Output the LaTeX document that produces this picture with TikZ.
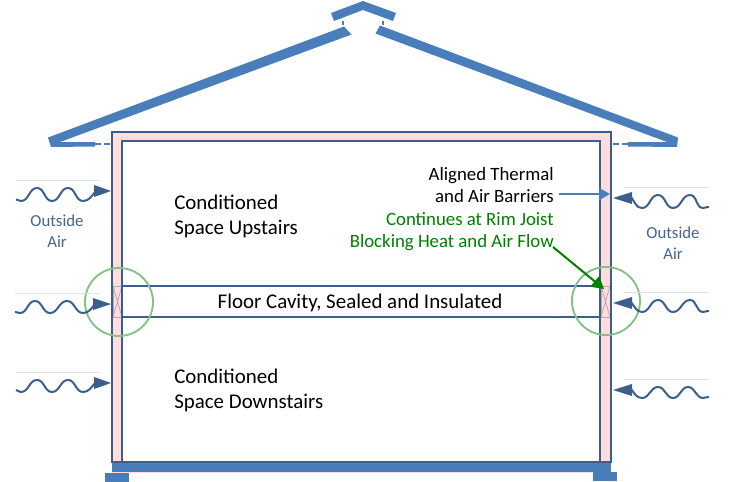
\documentclass[tikz,border=0pt]{standalone}
\usepackage{fontspec}
\setmainfont{Carlito}
\usetikzlibrary{arrows.meta}
\definecolor{wallc}{HTML}{3A5F8F}
\definecolor{roofc}{HTML}{4A7EBB}
\definecolor{pinkc}{HTML}{FFDDDD}
\definecolor{ringc}{HTML}{84C184}
\definecolor{greenc}{HTML}{008000}
\definecolor{hairc}{HTML}{DCE3F0}
\definecolor{blockc}{HTML}{B8A8BC}
\definecolor{airc}{HTML}{46648F}
\tikzset{
  x=0.75pt,y=-0.75pt,
  roofpart/.style={fill=roofc,draw=none},
  walline/.style={draw=wallc,line width=1.6pt},
  thinline/.style={draw=hairc,line width=0.75pt},
  airwave/.style={draw=wallc,line width=1.5pt},
  airhead/.style={fill=wallc,draw=none},
  ring/.style={draw=ringc,line width=1.4pt},
  blocking/.style={draw=blockc,line width=0.6pt},
  dashlink/.style={draw=roofc,line width=1.4pt,dash pattern=on 4.5pt off 2pt},
  wv/.style={out=0,in=180},
  bigtext/.style={font=\fontsize{15.7}{18.75}\selectfont,align=left,inner sep=0pt},
  midtext/.style={font=\fontsize{14.1}{16.8}\selectfont,align=right,inner sep=0pt},
  outtext/.style={font=\fontsize{12.6}{15.5}\selectfont,align=center,inner sep=0pt,text=airc},
}
\begin{document}
\begin{tikzpicture}
\useasboundingbox (0,0) rectangle (729,482);
% roof
\fill[roofpart] (48,137.5) -- (344,26.5) -- (351.5,34.5) -- (60,142) -- (95,142) -- (95,146.5) -- (51,147) -- cycle;
\fill[roofpart] (678,137.5) -- (380,25.5) -- (375.5,33.5) -- (667,142) -- (628,142) -- (628,146.5) -- (677,147) -- cycle;
\fill[roofpart] (331,13) -- (363,1) -- (396,13) -- (393,21) -- (363,10) -- (334,21) -- cycle;
\draw[dashlink,line width=1pt,dash pattern=on 3pt off 1.2pt] (343,21) -- (343,28);
\draw[dashlink,line width=1pt,dash pattern=on 3pt off 1.2pt] (383,21) -- (383,28);
\draw[dashlink] (95,144) -- (112,144);
\draw[dashlink] (628,144) -- (611,144);
% house shell
\fill[pinkc] (112,132) rectangle (611,472.5);
\fill[white] (122,141) rectangle (600,462);
% slab and footings
\fill[roofc] (112,462) rectangle (611,472);
\fill[roofc] (105,473) rectangle (129,482);
\fill[roofc] (593,472) rectangle (617,481);
% blocking
\foreach \xa/\xb in {113/122,601/610}{
  \draw[blocking] (\xa,286) rectangle (\xb,317);
  \draw[blocking] (\xa,286) -- (\xb,317) (\xa,317) -- (\xb,286);
}
% walls
\draw[walline] (112,462) -- (112,132) -- (611,132) -- (611,462) -- cycle;
\draw[walline] (122,462) -- (122,141) -- (600,141) -- (600,462);
\draw[walline] (122,286) -- (600,286) (122,317) -- (600,317);
% rings
\node[ring,circle,minimum size=51pt,inner sep=0pt] (ringL) at (119,302) {};
\node[ring,circle,minimum size=51pt,inner sep=0pt] (ringR) at (606,301) {};
% air left
\draw[thinline] (16,180) -- (100,180);
\draw[thinline] (15,293) -- (100,293);
\draw[thinline] (16,372) -- (100,372);
\draw[airwave] (16,199.5) to[out=-15,in=180] (21,201) to[wv] (37,188) to[wv] (52,201) to[wv] (68,188) to[wv] (83,201) to[out=0,in=-130] (95,192);
\draw[airwave] (15,312) to[out=-15,in=180] (20,313) to[wv] (35,301) to[wv] (50,313) to[wv] (67,301) to[wv] (83,313) to[out=0,in=-130] (95,304);
\draw[airwave] (16,390) to[out=-15,in=180] (21,392) to[wv] (37,380) to[wv] (52,392) to[wv] (68,380) to[wv] (83,392) to[out=0,in=-130] (95,383);
\fill[airhead] (94,185) -- (111,191) -- (94,197) -- cycle;
\fill[airhead] (93,298) -- (111,304) -- (93,310) -- cycle;
\fill[airhead] (94,377) -- (111,383) -- (94,389) -- cycle;
% air right
\draw[thinline] (624,187) -- (709,187);
\draw[thinline] (624,292) -- (709,292);
\draw[thinline] (624,379) -- (709,379);
\draw[airwave] (631,197) to[out=-50,in=180] (642,208) to[wv] (658,195) to[wv] (673,208) to[wv] (690,195) to[wv] (703,208) to[out=0,in=170] (709,207);
\draw[airwave] (631,302) to[out=-50,in=180] (642,312) to[wv] (658,300) to[wv] (673,312) to[wv] (690,300) to[wv] (703,312) to[out=0,in=170] (709,311);
\draw[airwave] (631,389) to[out=-50,in=180] (642,398) to[wv] (658,387) to[wv] (673,398) to[wv] (688,387) to[wv] (703,398) to[out=0,in=170] (709,397);
\fill[airhead] (632,192) -- (613,198) -- (632,204) -- cycle;
\fill[airhead] (632,297) -- (613,303) -- (632,309) -- cycle;
\fill[airhead] (632,384) -- (613,390) -- (632,396) -- cycle;
% texts
\node[bigtext,anchor=west] (up) at (174,216) {Conditioned\\Space Upstairs};
\node[bigtext,anchor=west] (down) at (174,390) {Conditioned\\Space Downstairs};
\node[bigtext,anchor=center] (floor) at (360,303) {Floor Cavity, Sealed and Insulated};
\node[midtext,anchor=east] (barrier) at (554,185) {Aligned Thermal\\and Air Barriers};
\node[midtext,anchor=east,text=greenc] (rim) at (554,231.5) {Continues at Rim Joist\\Blocking Heat and Air Flow};
\node[outtext] (airL) at (57,231) {Outside\\Air};
\node[outtext] (airR) at (673,243) {Outside\\Air};
% pointers
\coordinate (bstart) at (559,194);
\coordinate (btip) at (610,194);
\coordinate (gstart) at (553,247);
\coordinate (gtip) at (604,289);
\draw[draw=roofc,line width=1.1pt,-{Triangle[length=8.25pt,width=9pt,fill=roofc]}] (bstart) -- (btip);
\draw[draw=greenc,line width=1.5pt,-{Triangle[length=9pt,width=10pt,fill=greenc]}] (gstart) -- (gtip);
\end{tikzpicture}
\end{document}
